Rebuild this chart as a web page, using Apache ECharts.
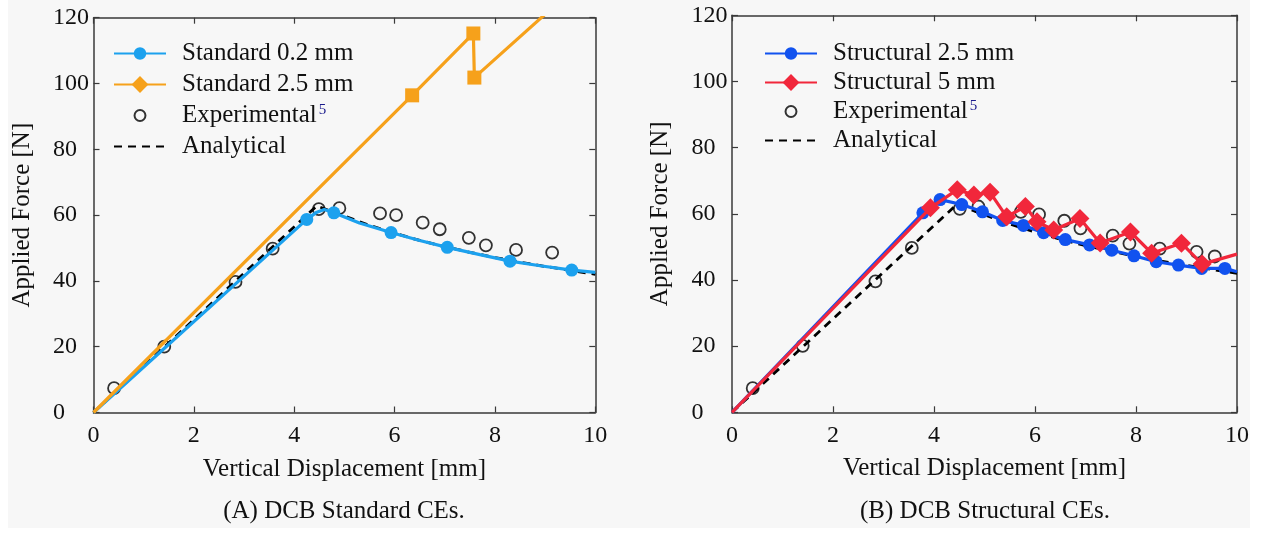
<!DOCTYPE html>
<html>
<head>
<meta charset="utf-8">
<script src="https://cdn.jsdelivr.net/npm/echarts@6/dist/echarts.min.js"></script>
<style>
  html, body { margin: 0; padding: 0; background: #ffffff; }
  #bg { position: absolute; left: 8px; top: 0; width: 1242px; height: 528px; background: #f7f7f7; }
  #chart { position: absolute; left: 0; top: 0; width: 1262px; height: 534px; }
</style>
</head>
<body>
<div id="bg"></div>
<div id="chart"></div>
<script>
// ---------- Data ----------
// Panel A: DCB Standard CEs
var std02X    = [0, 4.25, 4.45, 4.60, 4.79, 5.30, 5.93, 6.50, 7.05, 7.70, 8.30, 8.90, 9.53, 10];
var std02Y    = [0, 58.7, 60.9, 61.7, 60.7, 57.6, 54.7, 52.3, 50.2, 48.0, 46.0, 44.6, 43.3, 42.6];
var std02Mark = [0, 1,    0,    0,    1,    0,    1,    0,    1,    0,    1,    0,    1,    0];

var std25X    = [0, 6.35, 7.57, 7.59, 10];
var std25Y    = [0, 96.4, 115.2, 101.8, 134.7];
var std25Mark = [0, 1,    1,     1,     0];

var expAX = [0.41, 1.41, 2.83, 3.57, 4.49, 4.90, 5.71, 6.03, 6.56, 6.90, 7.48, 7.82, 8.42, 9.14];
var expAY = [7.4,  20.0, 39.7, 49.8, 61.8, 62.1, 60.5, 60.0, 57.7, 55.7, 53.1, 50.8, 49.4, 48.6];

var anaX = [0, 4.45, 5.0,  5.5,  6.0,  6.5,  7.0,  7.5,  8.0,  8.5,  9.0,  9.5,  10];
var anaY = [0, 62.8, 59.7, 56.9, 54.5, 52.3, 50.4, 48.7, 47.1, 45.7, 44.4, 43.2, 42.0];

// Panel B: DCB Structural CEs
var str25X    = [0, 3.78, 4.12, 4.55, 4.96, 5.36, 5.77, 6.17, 6.60, 7.08, 7.52, 7.96, 8.40, 8.84, 9.30, 9.76, 10];
var str25Y    = [0, 60.3, 64.3, 62.8, 60.6, 58.0, 56.5, 54.3, 52.2, 50.6, 49.0, 47.3, 45.5, 44.5, 43.5, 43.5, 42.5];
var str25Mark = [0, 1,    1,    1,    1,    1,    1,    1,    1,    1,    1,    1,    1,    1,    1,    1,    0];

var str5X    = [0, 3.93, 4.46, 4.79, 5.11, 5.44, 5.81, 6.04, 6.37, 6.89, 7.29, 7.89, 8.31, 8.90, 9.31, 10];
var str5Y    = [0, 61.8, 67.3, 65.7, 66.5, 59.1, 62.2, 57.6, 55.1, 58.6, 51.2, 54.5, 48.1, 51.1, 44.8, 47.8];
var str5Mark = [0, 1,    1,    1,    1,    1,    1,    1,    1,    1,    1,    1,    1,    1,    1,    0];

var expBX = [0.41, 1.40, 2.84, 3.56, 4.51, 4.88, 5.72, 6.08, 6.58, 6.90, 7.54, 7.87, 8.47, 9.20, 9.56];
var expBY = [7.3,  20.1, 39.6, 49.7, 61.5, 62.2, 60.6, 59.8, 57.9, 55.6, 53.4, 51.0, 49.5, 48.5, 47.1];

var xTicks = [0, 2, 4, 6, 8, 10];
var yTicks = [0, 20, 40, 60, 80, 100, 120];

var legendA = ['Standard 0.2 mm', 'Standard 2.5 mm', 'Experimental', 'Analytical'];
var legendB = ['Structural 2.5 mm', 'Structural 5 mm', 'Experimental', 'Analytical'];
var captionA = '(A) DCB Standard CEs.';
var captionB = '(B) DCB Structural CEs.';
var xTitle = 'Vertical Displacement [mm]';
var yTitle = 'Applied Force [N]';

// ---------- Helpers ----------
var FONT = '"Liberation Serif", "Times New Roman", serif';
// legend-only icons: circles padded inside a 100x100 box (the moveTo points set the box)
var LEG_CIRCLE = 'path://M0,0M100,100M13,50a37,37 0 1,0 74,0a37,37 0 1,0 -74,0z';
var LEG_RING = 'path://M0,0M100,100M24,50a26,26 0 1,0 52,0a26,26 0 1,0 -52,0z';

function pairs(xs, ys) { return xs.map(function (x, i) { return [x, ys[i]]; }); }
function marked(xs, ys, marks, sym) {
  return xs.map(function (x, i) {
    return { value: [x, ys[i]], symbol: marks[i] ? sym : 'none' };
  });
}
function xAx(gi, pos) {
  return {
    type: 'value', gridIndex: gi, position: pos, min: 0, max: 10, interval: 2,
    name: pos === 'bottom' ? xTitle : '', nameLocation: 'middle', nameGap: 44,
    nameTextStyle: { fontFamily: FONT, fontSize: 25, color: '#111' },
    axisLine: { show: true, onZero: false, lineStyle: { color: '#3a3a3a', width: 1.5 } },
    axisTick: { show: true, inside: true, length: 6, lineStyle: { color: '#3a3a3a', width: 1.2 } },
    axisLabel: { show: pos === 'bottom', fontFamily: FONT, fontSize: 24, color: '#111', margin: 11,
                 formatter: function (v) { return xTicks.indexOf(v) >= 0 ? String(v) : ''; } },
    splitLine: { show: false }
  };
}
function yAx(gi, pos) {
  return {
    type: 'value', gridIndex: gi, position: pos, min: 0, max: 120, interval: 20,
    name: pos === 'left' ? yTitle : '', nameLocation: 'middle', nameGap: 59, nameRotate: 90,
    nameTextStyle: { fontFamily: FONT, fontSize: 25, color: '#111' },
    axisLine: { show: true, onZero: false, lineStyle: { color: '#3a3a3a', width: 1.5 } },
    axisTick: { show: true, inside: true, length: 6, lineStyle: { color: '#3a3a3a', width: 1.2 } },
    axisLabel: { show: pos === 'left', fontFamily: FONT, fontSize: 24, color: '#111', margin: 40.5, align: 'left',
                 formatter: function (v) { return yTicks.indexOf(v) >= 0 ? String(v) : ''; } },
    splitLine: { show: false }
  };
}
function legend(names, left, gap) {
  var data = names.map(function (n) {
    if (n === 'Experimental') return { name: n, icon: LEG_RING };
    if (n === 'Analytical') return { name: n, itemStyle: { color: 'rgba(0,0,0,0)', borderWidth: 0, opacity: 0 } };
    return { name: n };
  });
  return {
    data: data, orient: 'vertical', left: left, top: 41, padding: 0, itemGap: gap,
    itemWidth: 52, itemHeight: 21, selectedMode: false,
    formatter: function (n) { return n === 'Experimental' ? '{t|Experimental}{s|5}' : '{t|' + n + '}'; },
    textStyle: {
      padding: [0, 0, 0, 11],
      rich: {
        t: { fontFamily: FONT, fontSize: 25, lineHeight: 25, color: '#111' },
        s: { fontFamily: FONT, fontSize: 15, lineHeight: 15, color: '#1a1a8c', verticalAlign: 'top', padding: [0, 0, 0, 2] }
      }
    }
  };
}

var expStyle = {
  type: 'scatter', name: 'Experimental', symbol: 'circle', symbolSize: 12,
  itemStyle: { color: 'rgba(0,0,0,0)', borderColor: '#000', borderWidth: 1.8 }
};
var anaStyle = {
  type: 'line', name: 'Analytical', symbol: 'none', showSymbol: false,
  lineStyle: { color: '#000', width: 2.8, type: [8, 6] }, itemStyle: { color: '#000' }
};

var option = {
  animation: false,
  backgroundColor: 'transparent',
  textStyle: { fontFamily: FONT },
  grid: [
    { left: 93.5, top: 17.7, width: 501.8, height: 394.8 },
    { left: 732, top: 15.3, width: 505, height: 397 }
  ],
  xAxis: [xAx(0, 'bottom'), xAx(0, 'top'), xAx(1, 'bottom'), xAx(1, 'top')],
  yAxis: [yAx(0, 'left'), yAx(0, 'right'), yAx(1, 'left'), yAx(1, 'right')],
  legend: [legend(legendA, 113, 6), legend(legendB, 764, 4)],
  series: [
    // Panel A
    Object.assign({}, expStyle, { xAxisIndex: 0, yAxisIndex: 0, z: 2, data: pairs(expAX, expAY) }),
    Object.assign({}, anaStyle, { xAxisIndex: 0, yAxisIndex: 0, z: 3, data: pairs(anaX, anaY) }),
    { type: 'line', name: 'Standard 0.2 mm', xAxisIndex: 0, yAxisIndex: 0, z: 4,
      symbol: LEG_CIRCLE, symbolSize: 13, showAllSymbol: true,
      lineStyle: { color: '#1ca1ee', width: 3.2 }, itemStyle: { color: '#1ca1ee' },
      data: marked(std02X, std02Y, std02Mark, 'circle') },
    { type: 'line', name: 'Standard 2.5 mm', xAxisIndex: 0, yAxisIndex: 0, z: 5,
      symbol: 'diamond', symbolSize: 14, showAllSymbol: true,
      lineStyle: { color: '#f6a11b', width: 3.2 }, itemStyle: { color: '#f6a11b' },
      data: marked(std25X, std25Y, std25Mark, 'rect') },
    // Panel B
    Object.assign({}, expStyle, { xAxisIndex: 2, yAxisIndex: 2, z: 2, data: pairs(expBX, expBY) }),
    Object.assign({}, anaStyle, { xAxisIndex: 2, yAxisIndex: 2, z: 3, data: pairs(anaX, anaY) }),
    { type: 'line', name: 'Structural 2.5 mm', xAxisIndex: 2, yAxisIndex: 2, z: 4,
      symbol: LEG_CIRCLE, symbolSize: 13, showAllSymbol: true,
      lineStyle: { color: '#1152ef', width: 3.2 }, itemStyle: { color: '#1152ef' },
      data: marked(str25X, str25Y, str25Mark, 'circle') },
    { type: 'line', name: 'Structural 5 mm', xAxisIndex: 2, yAxisIndex: 2, z: 5,
      symbol: 'diamond', symbolSize: 19, showAllSymbol: true,
      lineStyle: { color: '#f1273b', width: 3.2 }, itemStyle: { color: '#f1273b' },
      data: marked(str5X, str5Y, str5Mark, 'diamond') }
  ],
  graphic: [
    { type: 'text', x: 344, y: 511, style: { text: captionA, font: '25px ' + FONT, fill: '#111', textAlign: 'center', textVerticalAlign: 'middle' } },
    { type: 'text', x: 985, y: 511, style: { text: captionB, font: '25px ' + FONT, fill: '#111', textAlign: 'center', textVerticalAlign: 'middle' } }
  ]
};

var chart = echarts.init(document.getElementById('chart'), null, { renderer: 'canvas' });
chart.setOption(option);
</script>
</body>
</html>
